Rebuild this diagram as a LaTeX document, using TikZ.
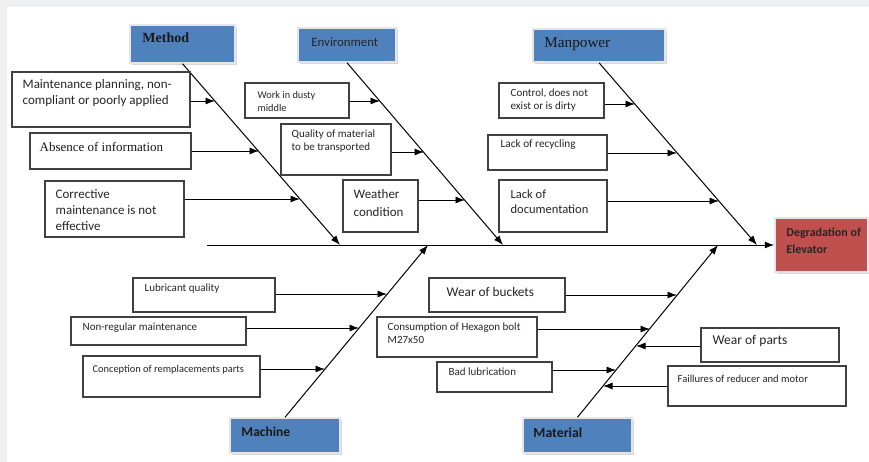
\documentclass[tikz,border=0pt]{standalone}
\usepackage{fontspec}
\setmainfont{Carlito}
\newfontfamily\timesfont{Liberation Serif}
\usetikzlibrary{fit,positioning,shadows,arrows.meta}

\definecolor{catblue}{HTML}{4F81BD}
\definecolor{headred}{HTML}{C0504D}
\definecolor{pagegray}{HTML}{EEF0F2}

\newcommand{\fsz}[2]{\fontsize{#1}{#2}\selectfont}

\begin{document}
\begin{tikzpicture}[x=1pt, y=-1pt, label distance=0pt,
    causebox/.style={rectangle, draw=black!75, line width=1.1pt, inner sep=0pt},
    boxtext/.style={anchor=north west, align=left, inner sep=0pt, text=black!85},
    category/.style={rectangle, draw=black!10, line width=1.5pt, fill=catblue, inner sep=0pt,
        drop shadow={shadow xshift=1.5pt, shadow yshift=-2pt, opacity=0.3}},
    bone/.style={line width=1pt, -{Latex[length=9.5pt, width=7pt]}},
    twig/.style={line width=0.9pt, -{Latex[length=9.5pt, width=7pt]}}]

    \useasboundingbox (0,0) rectangle (869,462);
    \fill[pagegray] (0,0) rectangle (869,462);
    \fill[white] (7,7) rectangle (869,462);

    %% head and spine
    \node[category, fill=headred, fit={(775,218) (868,272)},
        label={[boxtext, text=black!85, xshift=12pt, yshift=-11pt, font=\fsz{12}{17}\bfseries]north west:Degradation of\\Elevator}] (head) {};
    \coordinate (spinestart) at (207,245);
    \draw[bone] (spinestart) -- (head.west);

    %% categories
    \node[category, fit={(130,25) (235,63)},
        label={[boxtext, text=black!90, xshift=13pt, yshift=-8pt, font=\fsz{14}{16}\timesfont\bfseries]north west:Method}] (method) {};
    \node[category, fit={(298,28) (396,62)},
        label={[boxtext, text=black!85, xshift=14pt, yshift=-10pt, font=\fsz{12.8}{14}]north west:Environment}] (environment) {};
    \node[category, fit={(533,29) (665,62)},
        label={[boxtext, text=black!90, xshift=12pt, yshift=-9pt, font=\fsz{15.2}{17}\timesfont]north west:Manpower}] (manpower) {};
    \node[category, fit={(230,418) (340,453)},
        label={[boxtext, text=black!90, xshift=12pt, yshift=-10pt, font=\fsz{13.5}{15}\bfseries]north west:Machine}] (machine) {};
    \node[category, fit={(523,418) (632,453)},
        label={[boxtext, text=black!90, xshift=11pt, yshift=-10pt, font=\fsz{13.8}{15}\bfseries]north west:Material}] (material) {};

    %% ends of the bones on the spine
    \coordinate (methodend) at (340,245);
    \coordinate (envend) at (503,245);
    \coordinate (manend) at (757,245);
    \coordinate (machend) at (428,245);
    \coordinate (matend) at (718,245);

    \draw[bone] (method.south) -- (methodend);
    \draw[bone] (environment.south) -- (envend);
    \draw[bone] (manpower.south) -- (manend);
    \draw[bone] (machine.north) -- (machend);
    \draw[bone] (material.north) -- (matend);

    %% points on the bones
    \coordinate (me1) at (215,101);
    \coordinate (me2) at (259,151);
    \coordinate (me3) at (300,199);
    \coordinate (en1) at (380,101);
    \coordinate (en2) at (424,152);
    \coordinate (en3) at (465,200);
    \coordinate (mp1) at (635,104);
    \coordinate (mp2) at (677,153);
    \coordinate (mp3) at (719,201);
    \coordinate (ma1) at (387,294);
    \coordinate (ma2) at (359,328);
    \coordinate (ma3) at (325,369);
    \coordinate (mt1) at (677,295);
    \coordinate (mt2) at (650,329);
    \coordinate (mt3) at (636,346);
    \coordinate (mt4) at (616,370);
    \coordinate (mt5) at (603,386);

    %% method causes
    \node[causebox, fit={(12,72) (190,127)},
        label={[boxtext, xshift=11pt, yshift=-8pt, font=\fsz{13}{16}]north west:Maintenance planning, non-\\compliant or poorly applied}] (mplan) {};
    \node[causebox, fit={(30,133) (191,169)},
        label={[boxtext, text=black!90, xshift=10pt, yshift=-10pt, font=\fsz{13}{15}\timesfont]north west:Absence of information}] (absence) {};
    \node[causebox, fit={(45,181) (184,237)},
        label={[boxtext, xshift=11pt, yshift=-9pt, font=\fsz{13}{16}]north west:Corrective\\maintenance is not\\effective}] (corrective) {};

    \draw[twig] (mplan.east |- me1) -- (me1);
    \draw[twig] (absence.east |- me2) -- (me2);
    \draw[twig] (corrective.east |- me3) -- (me3);

    %% environment causes
    \node[causebox, fit={(245,83) (349,118)},
        label={[boxtext, xshift=13pt, yshift=-9pt, font=\fsz{10.3}{13}]north west:Work in dusty\\middle}] (dusty) {};
    \node[causebox, fit={(281,124) (391,175)},
        label={[boxtext, xshift=11pt, yshift=-6pt, font=\fsz{11}{13}]north west:Quality of material\\to be transported}] (quality) {};
    \node[causebox, fit={(343,180) (418,232)},
        label={[boxtext, xshift=11pt, yshift=-10pt, font=\fsz{13}{18}]north west:Weather\\condition}] (weather) {};

    \draw[twig] (dusty.east |- en1) -- (en1);
    \draw[twig] (quality.east |- en2) -- (en2);
    \draw[twig] (weather.east |- en3) -- (en3);

    %% manpower causes
    \node[causebox, fit={(499,83) (604,118)},
        label={[boxtext, xshift=12pt, yshift=-6pt, font=\fsz{11}{13}]north west:Control, does not\\exist or is dirty}] (control) {};
    \node[causebox, fit={(488,135) (607,170)},
        label={[boxtext, xshift=13pt, yshift=-5pt, font=\fsz{11.3}{13}]north west:Lack of recycling}] (recycling) {};
    \node[causebox, fit={(499,180) (607,232)},
        label={[boxtext, xshift=12pt, yshift=-10pt, font=\fsz{12.5}{15.5}]north west:Lack of\\documentation}] (documentation) {};

    \draw[twig] (control.east |- mp1) -- (mp1);
    \draw[twig] (recycling.east |- mp2) -- (mp2);
    \draw[twig] (documentation.east |- mp3) -- (mp3);

    %% machine causes
    \node[causebox, fit={(133,278) (275,312)},
        label={[boxtext, xshift=12pt, yshift=-6pt, font=\fsz{11}{13}]north west:Lubricant quality}] (lubricant) {};
    \node[causebox, fit={(71,317) (246,345)},
        label={[boxtext, xshift=12pt, yshift=-6pt, font=\fsz{11}{13}]north west:Non-regular maintenance}] (nonregular) {};
    \node[causebox, fit={(83,356) (260,397)},
        label={[boxtext, xshift=10pt, yshift=-10pt, font=\fsz{10.4}{12}]north west:Conception of remplacements parts}] (conception) {};

    \draw[twig] (lubricant.east |- ma1) -- (ma1);
    \draw[twig] (nonregular.east |- ma2) -- (ma2);
    \draw[twig] (conception.east |- ma3) -- (ma3);

    %% material causes
    \node[causebox, fit={(429,278) (565,312)},
        label={[boxtext, xshift=18pt, yshift=-10pt, font=\fsz{13.3}{15}]north west:Wear of buckets}] (buckets) {};
    \node[causebox, fit={(377,317) (537,357)},
        label={[boxtext, xshift=11pt, yshift=-6pt, font=\fsz{11}{13}]north west:Consumption of Hexagon bolt\\M27x50}] (consumption) {};
    \node[causebox, fit={(437,362) (552,392)},
        label={[boxtext, xshift=12pt, yshift=-6pt, font=\fsz{11}{13}]north west:Bad lubrication}] (badlub) {};
    \node[causebox, fit={(701,328) (839,362)},
        label={[boxtext, xshift=12pt, yshift=-8pt, font=\fsz{13.5}{15}]north west:Wear of parts}] (wearparts) {};
    \node[causebox, fit={(668,366) (846,406)},
        label={[boxtext, xshift=10pt, yshift=-9pt, font=\fsz{10.6}{12}]north west:Faillures of reducer and motor}] (failures) {};

    \draw[twig] (buckets.east |- mt1) -- (mt1);
    \draw[twig] (consumption.east |- mt2) -- (mt2);
    \draw[twig] (wearparts.west |- mt3) -- (mt3);
    \draw[twig] (badlub.east |- mt4) -- (mt4);
    \draw[twig] (failures.west |- mt5) -- (mt5);

\end{tikzpicture}
\end{document}
